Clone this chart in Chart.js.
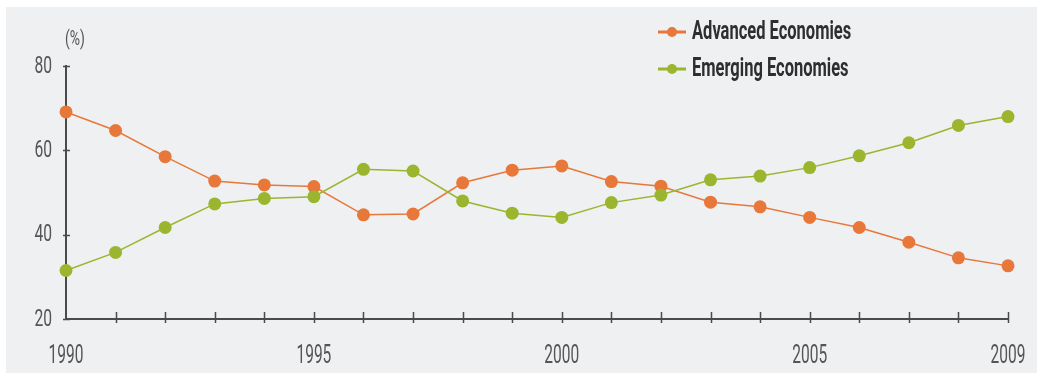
<!DOCTYPE html>
<html>
<head>
<meta charset="utf-8">
<script src="https://cdn.jsdelivr.net/npm/chart.js@4/dist/chart.umd.min.js"></script>
<style>
  html, body { margin: 0; padding: 0; background: #ffffff; }
  canvas { display: block; }
</style>
</head>
<body>
<canvas id="shares" width="1037" height="378"></canvas>
<script>
// values, share of world (%)
const years = ['1990', '1991', '1992', '1993', '1994', '1995', '1996', '1997', '1998', '1999',
               '2000', '2001', '2002', '2003', '2004', '2005', '2006', '2007', '2008', '2009']
const advanced = [69.1, 64.7, 58.5, 52.7, 51.8, 51.4, 44.7, 44.9, 52.3, 55.3,
                  56.3, 52.6, 51.5, 47.7, 46.6, 44.1, 41.7, 38.2, 34.5, 32.6]
const emerging = [31.5, 35.8, 41.7, 47.3, 48.6, 49.0, 55.5, 55.1, 48.0, 45.1,
                  44.1, 47.6, 49.4, 53.0, 53.9, 55.9, 58.7, 61.8, 65.9, 68.0]
const yTicks = [20, 40, 60, 80]
const shownYears = ['1990', '1995', '2000', '2005', '2009']

const orange = "#e8773a"
const green = "#9bb52f"
const axisCol = "#4a4a4a"
const labelCol = "#555555"
const face = "Roboto, 'Liberation Sans', sans-serif"

// the original uses a tall condensed face; squeeze a normal one sideways
const squeezeText = (ctx, text, x, y, font, sx, align) => {
    ctx.save()
    ctx.font = font
    ctx.textBaseline = 'middle'
    ctx.textAlign = 'left'
    const w = ctx.measureText(text).width * sx
    let left = x
    if (align === 'center') left = x - w / 2
    if (align === 'right') left = x - w
    ctx.translate(left, y)
    ctx.scale(sx, 1)
    ctx.fillText(text, 0, 0)
    ctx.restore()
}

const backdrop = {
    id: 'backdrop',
    beforeDraw(chart) {
        const ctx = chart.ctx
        ctx.save()
        ctx.fillStyle = "#eef0f2"
        ctx.fillRect(6, 7, chart.width - 6, chart.height - 12)
        ctx.restore()
    }
}

const axisMarks = {
    id: 'axisMarks',
    afterDatasetsDraw(chart) {
        const ctx = chart.ctx
        const x = chart.scales.x, y = chart.scales.y
        const area = chart.chartArea
        ctx.save()
        ctx.strokeStyle = axisCol
        ctx.lineWidth = 1.5
        years.forEach((yr, i) => {
            if (i === 0) return
            const px = Math.round(x.getPixelForValue(i)) + 0.5
            ctx.beginPath()
            ctx.moveTo(px, area.bottom - 7)
            ctx.lineTo(px, area.bottom + 4)
            ctx.stroke()
        })
        yTicks.forEach(v => {
            const py = Math.round(y.getPixelForValue(v)) + 0.5
            ctx.beginPath()
            ctx.moveTo(area.left - 3, py)
            ctx.lineTo(area.left + 4, py)
            ctx.stroke()
        })
        ctx.fillStyle = labelCol
        yTicks.forEach(v => {
            squeezeText(ctx, String(v), area.left - 14, y.getPixelForValue(v) + 1, "23px " + face, 0.68, 'right')
        })
        years.forEach((yr, i) => {
            if (!shownYears.includes(yr)) return
            squeezeText(ctx, yr, x.getPixelForValue(i), 357, "25px " + face, 0.62, 'center')
        })
        squeezeText(ctx, '(%)', area.left + 9, 40, "20px " + face, 0.7, 'center')
        ctx.restore()
    }
}

const sideLegend = {
    id: 'sideLegend',
    afterDraw(chart) {
        const ctx = chart.ctx
        const rows = [
            { text: 'Advanced Economies', color: orange, y: 32 },
            { text: 'Emerging Economies', color: green, y: 69 }
        ]
        ctx.save()
        rows.forEach(r => {
            ctx.strokeStyle = r.color
            ctx.lineWidth = 3
            ctx.beginPath()
            ctx.moveTo(658, r.y)
            ctx.lineTo(686, r.y)
            ctx.stroke()
            ctx.fillStyle = r.color
            ctx.beginPath()
            ctx.arc(672, r.y, 5, 0, Math.PI * 2)
            ctx.fill()
            ctx.fillStyle = "#2e2e2e"
            squeezeText(ctx, r.text, 692, r.y + 1, "bold 25px " + face, 0.66, 'left')
        })
        ctx.restore()
    }
}

const ctx = document.getElementById('shares').getContext('2d')
const sharesChart = new Chart(ctx, {
    type: 'line',
    data: {
        labels: years,
        datasets: [{
            label: 'Advanced Economies',
            data: advanced,
            borderColor: orange,
            backgroundColor: orange,
            borderWidth: 1.5,
            pointRadius: 6.5,
            pointBorderWidth: 0,
            tension: 0,
            clip: false,
            order: 2
        }, {
            label: 'Emerging Economies',
            data: emerging,
            borderColor: green,
            backgroundColor: green,
            borderWidth: 1.5,
            pointRadius: 6.5,
            pointBorderWidth: 0,
            tension: 0,
            clip: false,
            order: 1
        }]
    },
    options: {
        responsive: false,
        animation: false,
        layout: {
            padding: { top: 66, right: 29, left: 0, bottom: 0 }
        },
        plugins: {
            legend: { display: false },
            tooltip: { enabled: false }
        },
        scales: {
            x: {
                offset: false,
                grid: { display: false },
                border: { display: true, color: axisCol, width: 2 },
                ticks: { display: false },
                afterFit: scale => { scale.height = 59 }
            },
            y: {
                min: 20,
                max: 80,
                grid: { display: false },
                border: { display: true, color: axisCol, width: 2 },
                ticks: { display: false },
                afterFit: scale => { scale.width = 66 }
            }
        }
    },
    plugins: [backdrop, axisMarks, sideLegend]
})
</script>
</body>
</html>
